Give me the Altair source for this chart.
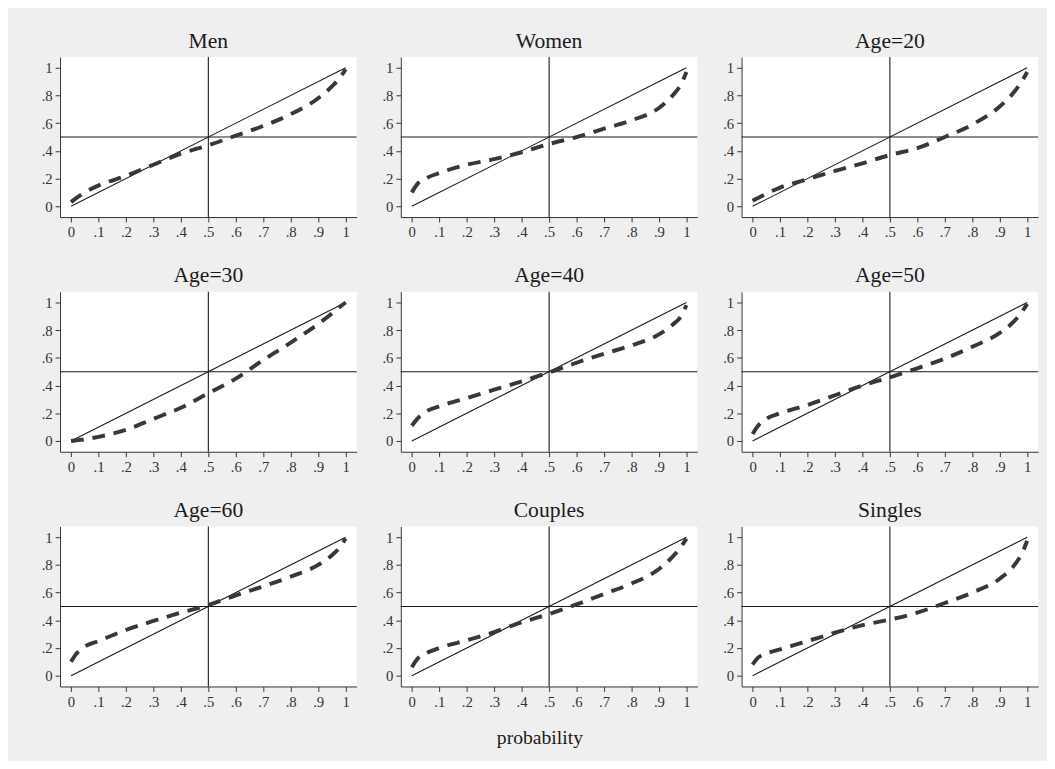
import altair as alt
import pandas as pd

panels = ["Men", "Women", "Age=20", "Age=30", "Age=40", "Age=50", "Age=60", "Couples", "Singles"]

xs = [0, 0.02, 0.05, 0.1, 0.2, 0.3, 0.4, 0.5, 0.6, 0.7, 0.8, 0.9, 0.95, 0.98, 1]

men     = [0.03, 0.06, 0.10, 0.15, 0.22, 0.30, 0.38, 0.44, 0.51, 0.58, 0.665, 0.78, 0.865, 0.93, 0.99]
women   = [0.10, 0.16, 0.20, 0.24, 0.30, 0.34, 0.39, 0.45, 0.50, 0.56, 0.62, 0.71, 0.80, 0.88, 0.97]
age20   = [0.04, 0.06, 0.09, 0.135, 0.195, 0.255, 0.31, 0.37, 0.42, 0.50, 0.59, 0.72, 0.82, 0.90, 0.97]
age30   = [0.00, 0.005, 0.012, 0.03, 0.08, 0.16, 0.24, 0.345, 0.45, 0.585, 0.71, 0.845, 0.92, 0.97, 1.00]
age40   = [0.11, 0.16, 0.21, 0.25, 0.31, 0.37, 0.43, 0.495, 0.565, 0.63, 0.69, 0.77, 0.84, 0.90, 0.98]
age50   = [0.05, 0.11, 0.16, 0.20, 0.26, 0.33, 0.40, 0.46, 0.525, 0.595, 0.68, 0.78, 0.86, 0.93, 0.99]
age60   = [0.10, 0.16, 0.21, 0.25, 0.33, 0.395, 0.455, 0.51, 0.58, 0.645, 0.715, 0.80, 0.87, 0.93, 0.99]
couples = [0.06, 0.12, 0.16, 0.20, 0.255, 0.315, 0.385, 0.445, 0.515, 0.59, 0.665, 0.77, 0.86, 0.93, 0.99]
singles = [0.08, 0.13, 0.16, 0.19, 0.25, 0.31, 0.365, 0.405, 0.455, 0.525, 0.60, 0.70, 0.79, 0.88, 0.975]

series = [men, women, age20, age30, age40, age50, age60, couples, singles]

x_ticks = [0, 0.1, 0.2, 0.3, 0.4, 0.5, 0.6, 0.7, 0.8, 0.9, 1]
y_ticks = [0, 0.2, 0.4, 0.6, 0.8, 1]
diag_x = [0, 1]

rows = []
for name, ys in zip(panels, series):
    for i, (xv, yv) in enumerate(zip(xs, ys)):
        rows.append({"panel": name, "x": xv, "y": yv, "kind": "curve", "order": i})
    for i, d in enumerate(diag_x):
        rows.append({"panel": name, "x": d, "y": d, "kind": "diag", "order": i})
df = pd.DataFrame(rows)

FONT = "Liberation Serif"
label_expr = "datum.value == 0 ? '0' : (datum.value >= 0.999 ? '1' : substring(format(datum.value, '.1f'), 1))"

axis_common = dict(
    title=None, grid=False, labelOverlap=False, labelFlush=False,
    labelFont=FONT, labelFontSize=15, labelColor="#333333",
    domainColor="#333333", tickColor="#333333", tickSize=5, labelPadding=3,
    domainWidth=1, tickWidth=1, labelExpr=label_expr,
)

xscale = alt.Scale(domain=[-0.04, 1.04], nice=False, zero=False)
yscale = alt.Scale(domain=[-0.078, 1.078], nice=False, zero=False)
xaxis = alt.Axis(values=x_ticks, **axis_common)
yaxis = alt.Axis(values=y_ticks, labelAngle=0, **axis_common)

X = alt.X("x:Q", scale=xscale, axis=xaxis, title=None)
Y = alt.Y("y:Q", scale=yscale, axis=yaxis, title=None)

diag = alt.Chart().mark_line(color="#1a1a1a", strokeWidth=1.1).encode(
    x=X, y=Y, order="order:Q",
).transform_filter(alt.datum.kind == "diag")

curve = alt.Chart().mark_line(
    color="#383838", strokeWidth=4, strokeDash=[13, 9], interpolate="monotone"
).encode(
    x=X, y=Y, order="order:Q",
).transform_filter(alt.datum.kind == "curve")

hrule = alt.Chart().mark_rule(color="#1a1a1a", strokeWidth=1.1).encode(
    y=alt.YDatum(0.5, scale=yscale, axis=yaxis, title=None)
).transform_filter((alt.datum.kind == "diag") & (alt.datum.order == 0))

vrule = alt.Chart().mark_rule(color="#1a1a1a", strokeWidth=1.1).encode(
    x=alt.XDatum(0.5, scale=xscale, axis=xaxis, title=None)
).transform_filter((alt.datum.kind == "diag") & (alt.datum.order == 0))

chart = alt.layer(diag, hrule, vrule, curve, data=df).properties(
    width=302, height=163
).facet(
    facet=alt.Facet("panel:N", sort=panels,
                    header=alt.Header(title=None, labelFont=FONT, labelFontSize=22,
                                      labelFontWeight="normal",
                                      labelColor="#1a1a1a", labelPadding=4)),
    columns=3,
    spacing={"row": 25, "column": 24},
).resolve_axis(
    x="independent", y="independent"
).properties(
    background="#efefef",
    padding={"left": 33, "top": 15, "right": 8, "bottom": 6},
    title=alt.TitleParams("probability", orient="bottom", anchor="middle",
                          font=FONT, fontSize=20, fontWeight="normal",
                          color="#1a1a1a", offset=20),
).configure(
    font=FONT
).configure_view(
    stroke=None, fill="white"
).configure_axis(
    labelFont=FONT, labelFontSize=15, labelOverlap=False, labelColor="#333333",
    tickSize=5, domainColor="#333333", tickColor="#333333", grid=False
).configure_title(
    font=FONT, fontSize=20, fontWeight="normal", color="#1a1a1a"
)

chart.save("out.html", embed_options={"renderer": "svg", "actions": False})
